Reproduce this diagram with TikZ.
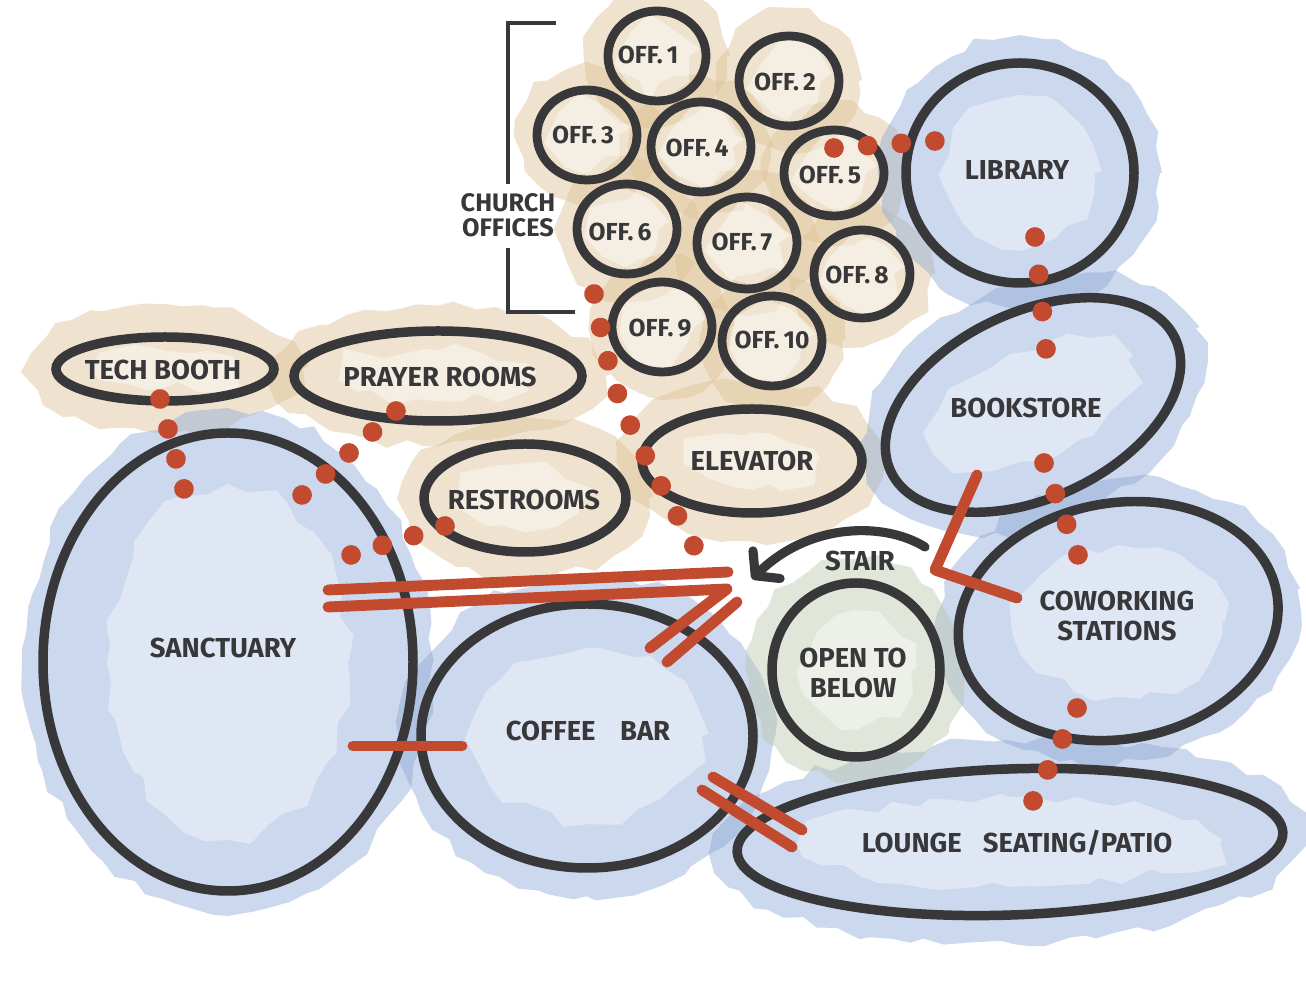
\documentclass[tikz,border=0pt]{standalone}
\usepackage{fontspec}
\setmainfont{Fira Sans}
\usepackage{tikz}
\usetikzlibrary{
    calc,
    arrows.meta,
    decorations.markings,
    decorations.pathmorphing
}

\definecolor{inkgray}{HTML}{38383A}
\definecolor{dotred}{HTML}{C14A2F}
\definecolor{washblue}{HTML}{8DA8D6}
\definecolor{washtan}{HTML}{DCC295}
\definecolor{washgreen}{HTML}{BCC8AC}

\tikzset{
    room/.style={draw=inkgray, line width=2.7pt},
    roomlabel/.style={text=inkgray, font=\bfseries\fontsize{7.8}{8.3}\selectfont, align=center, inner sep=0pt},
    offlabel/.style={roomlabel, font=\bfseries\fontsize{7}{8}\selectfont},
    wash/.style={fill=#1, fill opacity=.45, decorate,
        decoration={random steps, segment length=5pt, amplitude=1.5pt}},
    glow/.style={fill=white, fill opacity=.4, decorate,
        decoration={random steps, segment length=6pt, amplitude=2pt}},
    redbar/.style={draw=dotred, line width=3.1pt, line cap=round, line join=round},
    dotchain/.style={decoration={markings,
        mark=between positions 0 and 1 step #1 with {\fill[dotred] (0,0) circle (2.8pt);}},
        postaction={decorate}},
    stairarrow/.style={draw=inkgray, line width=2.6pt, line cap=round,
        -{Straight Barb[round, length=4.5pt, width=11pt]}},
    bracketline/.style={draw=inkgray, line width=1.1pt},
}

\begin{document}
\begin{tikzpicture}[x=0.01cm, y=-0.01cm]
\pgfmathsetseed{11}
\useasboundingbox (0,0) rectangle (1306,986);

%====================================================
% Room centres
%====================================================

\coordinate (sanctC)  at (228,662);
\coordinate (coffeeC) at (587,736);
\coordinate (libC)    at (1020,173);
\coordinate (bookC)   at (1033,405);
\coordinate (cowC)    at (1118,621);
\coordinate (loungeC) at (1010,842);
\coordinate (openC)   at (856,670);
\coordinate (techC)   at (165,369);
\coordinate (prayC)   at (438,376);
\coordinate (restC)   at (525,498);
\coordinate (elevC)   at (752,461);

\coordinate (off1)  at (657,56);
\coordinate (off2)  at (789,81);
\coordinate (off3)  at (587,135);
\coordinate (off4)  at (701,147);
\coordinate (off5)  at (834,173);
\coordinate (off6)  at (627,229);
\coordinate (off7)  at (747,243);
\coordinate (off8)  at (862,274);
\coordinate (off9)  at (662,327);
\coordinate (off10) at (772,341);

%====================================================
% Washes
%====================================================

\foreach \i in {1,...,10}
    \fill[wash=washtan] (off\i) circle [radius=70];
\fill[wash=washtan] (techC) ellipse [x radius=138, y radius=64];
\fill[wash=washtan] (prayC) ellipse [x radius=168, y radius=70];
\fill[wash=washtan] (restC) ellipse [x radius=124, y radius=80];
\fill[wash=washtan] (elevC) ellipse [x radius=134, y radius=80];

\fill[wash=washblue] (sanctC) ellipse [x radius=205, y radius=252];
\fill[wash=washblue] (coffeeC) ellipse [x radius=188, y radius=160];
\fill[wash=washblue] (libC) ellipse [x radius=140, y radius=136];
\fill[wash=washblue, rotate around={25:(bookC)}] (bookC) ellipse [x radius=180, y radius=118];
\fill[wash=washblue, rotate around={10:(cowC)}] (cowC) ellipse [x radius=182, y radius=140];
\fill[wash=washblue, rotate around={2:(loungeC)}] (loungeC) ellipse [x radius=298, y radius=102];

\fill[wash=washgreen] (openC) circle [radius=110];

\foreach \i in {1,...,10}
    \fill[glow] (off\i) circle [radius=32];
\fill[glow] (sanctC) ellipse [x radius=120, y radius=175];
\fill[glow] (coffeeC) ellipse [x radius=115, y radius=85];
\fill[glow] (libC) ellipse [x radius=75, y radius=72];
\fill[glow, rotate around={25:(bookC)}] (bookC) ellipse [x radius=105, y radius=55];
\fill[glow] (cowC) ellipse [x radius=105, y radius=75];
\fill[glow] (loungeC) ellipse [x radius=210, y radius=45];
\fill[glow] (openC) circle [radius=55];
\fill[glow] (techC) ellipse [x radius=70, y radius=18];
\fill[glow] (prayC) ellipse [x radius=95, y radius=25];
\fill[glow] (restC) ellipse [x radius=60, y radius=30];
\fill[glow] (elevC) ellipse [x radius=65, y radius=28];

%====================================================
% Room outlines
%====================================================

\draw[room] (sanctC) ellipse [x radius=185, y radius=229];
\draw[room] (coffeeC) ellipse [x radius=166, y radius=132];
\draw[room] (libC) ellipse [x radius=114, y radius=110];
\draw[room, rotate around={25:(bookC)}] (bookC) ellipse [x radius=157, y radius=93];
\draw[room, rotate around={10:(cowC)}] (cowC) ellipse [x radius=161, y radius=118];
\draw[room, rotate around={2:(loungeC)}] (loungeC) ellipse [x radius=273, y radius=73];
\draw[room] (openC) ellipse [x radius=84, y radius=87];
\draw[room] (techC) ellipse [x radius=109, y radius=32];
\draw[room] (prayC) ellipse [x radius=144, y radius=45];
\draw[room] (restC) ellipse [x radius=101, y radius=54];
\draw[room] (elevC) ellipse [x radius=110, y radius=52];

\foreach \i/\rx/\ry in {1/49/45, 2/50/45, 3/50/45, 4/50/45, 5/50/43,
                        6/50/45, 7/50/46, 8/48/44, 9/50/45, 10/50/45}
    \draw[room, line width=2.5pt] (off\i) ellipse [x radius=\rx, y radius=\ry];

%====================================================
% Labels
%====================================================

\node[roomlabel] (sanct)  at (223,648) {SANCTUARY};
\node[roomlabel] (coffee) at (588,731) {COFFEE\hspace{7pt}BAR};
\node[roomlabel] (lib)    at (1017,170) {LIBRARY};
\node[roomlabel] (book)   at (1026,408) {BOOKSTORE};
\node[roomlabel] (cow)    at (1117,616) {COWORKING\\STATIONS};
\node[roomlabel] (lounge) at (1017,843) {LOUNGE\hspace{6pt}SEATING/PATIO};
\node[roomlabel] (openbelow) at (853,673) {OPEN TO\\BELOW};
\node[roomlabel] (tech)   at (163,370) {TECH BOOTH};
\node[roomlabel] (prayer) at (440,377) {PRAYER ROOMS};
\node[roomlabel] (rest)   at (524,500) {RESTROOMS};
\node[roomlabel] (elev)   at (752,461) {ELEVATOR};
\node[roomlabel] (stair)  at (860,561) {STAIR};
\node[offlabel, font=\bfseries\fontsize{7.2}{7.2}\selectfont] (churchoff) at (508,215) {CHURCH\\OFFICES};

\node[offlabel] (o1)  at (648,55)  {OFF.\,1};
\node[offlabel] (o2)  at (785,82)  {OFF.\,2};
\node[offlabel] (o3)  at (583,135) {OFF.\,3};
\node[offlabel] (o4)  at (697,148) {OFF.\,4};
\node[offlabel] (o5)  at (830,175) {OFF.\,5};
\node[offlabel] (o6)  at (620,232) {OFF.\,6};
\node[offlabel] (o7)  at (742,242) {OFF.\,7};
\node[offlabel] (o8)  at (857,275) {OFF.\,8};
\node[offlabel] (o9)  at (660,328) {OFF.\,9};
\node[offlabel] (o10) at (772,340) {OFF.\,10};

%====================================================
% Bracket
%====================================================

\coordinate (brTop) at (556,23);
\coordinate (brBot) at (575,312);

\draw[bracketline] (brTop) -- (brTop -| churchoff) -- ($(churchoff.north)+(0,-8)$);
\draw[bracketline] ($(churchoff.south)+(0,10)$) -- (brBot -| churchoff) -- (brBot);

%====================================================
% Adjacencies: dots
%====================================================

\coordinate (d1a) at (834,148);  \coordinate (d1b) at (935,141);
\coordinate (d2a) at (1035,237); \coordinate (d2b) at (1046,349);
\coordinate (d3a) at (1044,463); \coordinate (d3b) at (1078,555);
\coordinate (d4a) at (1077,708); \coordinate (d4b) at (1033,801);
\coordinate (d5a) at (160,399);  \coordinate (d5b) at (184,489);
\coordinate (d6a) at (396,411);  \coordinate (d6b) at (302,495);
\coordinate (d7a) at (445,526);  \coordinate (d7b) at (351,555);
\coordinate (d8a) at (594,294);  \coordinate (d8b) at (694,546);

\path[dotchain=0.333] (d1a) -- (d1b);
\path[dotchain=0.333] (d2a) -- (d2b);
\path[dotchain=0.333] (d3a) -- (d3b);
\path[dotchain=0.333] (d4a) -- (d4b);
\path[dotchain=0.333] (d5a) -- (d5b);
\path[dotchain=0.2499] (d6a) -- (d6b);
\path[dotchain=0.333] (d7a) -- (d7b);
\path[dotchain=0.1249] (d8a) .. controls (615,402) .. (d8b);

%====================================================
% Adjacencies: bars
%====================================================

\coordinate (b1a) at (353,746);  \coordinate (b1b) at (462,746);
\coordinate (b2a) at (328,590);  \coordinate (b2b) at (728,572);
\coordinate (b3a) at (328,607);  \coordinate (b3b) at (727,589);
\coordinate (b3c) at (650,648);
\coordinate (b4a) at (737,602);  \coordinate (b4b) at (667,662);
\coordinate (b5a) at (713,777);  \coordinate (b5b) at (802,830);
\coordinate (b6a) at (702,790);  \coordinate (b6b) at (792,847);
\coordinate (b7a) at (977,475);  \coordinate (b7b) at (935,570);
\coordinate (b7c) at (1017,598);

\draw[redbar] (b1a) -- (b1b);
\draw[redbar] (b2a) -- (b2b);
\draw[redbar] (b3a) -- (b3b) -- (b3c);
\draw[redbar] (b4a) -- (b4b);
\draw[redbar] (b5a) -- (b5b);
\draw[redbar] (b6a) -- (b6b);
\draw[redbar] (b7a) -- (b7b) -- (b7c);

%====================================================
% Stair
%====================================================

\coordinate (stairA) at (925,547);
\coordinate (stairB) at (752,579);

\draw[stairarrow] (stairA) .. controls (885,522) and (810,522) .. (stairB);

\end{tikzpicture}
\end{document}
